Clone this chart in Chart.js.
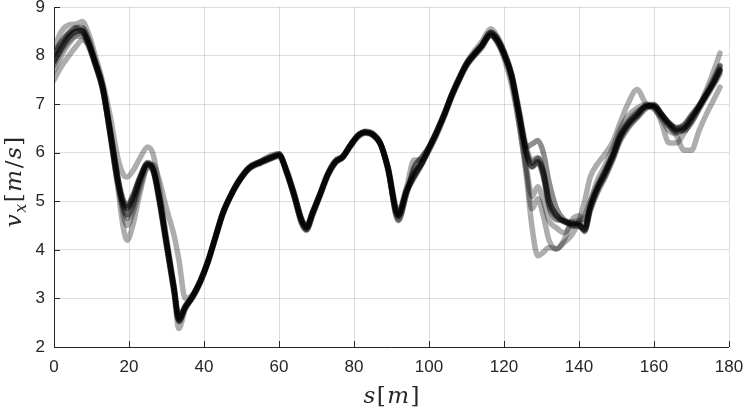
<!DOCTYPE html>
<html><head><meta charset="utf-8">
<script src="https://cdn.jsdelivr.net/npm/chart.js@4.4.1/dist/chart.umd.min.js"></script>
<style>html,body{margin:0;padding:0;background:#fff}#wrap{width:747px;height:412px}</style>
</head><body><div id="wrap"><canvas id="c" width="747" height="412"></canvas></div>
<script>
// distance along track s [m]
const S = [0,2,4,6,7.5,9,11,13,15,17,
  18.5,19.5,21,23,25,26.5,28,30,32,33.3,
  35,37,39,41,43,45,47,49,52,55,
  58,60,62,64,66,67.3,69,71,73,75,
  77,79,81,83,85,87,89,91.8,94,96,
  98,100,102,104,106,108,110,112,114,116.5,
  118,120,122,124,126,127.5,129,130.5,132,134,
  136,138,140,141.5,143,145,147,149,151,153,
  155.5,158,160,162,164,166,168,170,172,174,176,177.6];

// velocity v_x [m/s] per lap
const lapA = [8.05,8.3,8.48,8.58,8.58,8.38,7.9,7.38,6.45,5.5,
  5.02,4.92,5.12,5.52,5.8,5.68,5.15,4.2,3.25,2.62,
  2.85,3.05,3.35,3.75,4.25,4.75,5.1,5.4,5.7,5.82,
  5.92,5.98,5.62,5.12,4.58,4.42,4.75,5.15,5.55,5.8,
  5.9,6.15,6.35,6.44,6.4,6.2,5.68,4.68,5.2,5.52,
  5.8,6.12,6.45,6.8,7.2,7.55,7.85,8.05,8.22,8.48,
  8.38,8.08,7.62,6.85,6.12,6.18,6.25,6.0,5.4,4.85,
  4.62,4.55,4.55,4.38,4.8,5.2,5.5,5.85,6.25,6.5,
  6.72,6.92,6.98,6.8,6.6,6.48,6.5,6.7,6.95,7.2,7.5,7.78];
const lapB = [7.9,8.15,8.38,8.5,8.52,8.3,7.85,7.32,6.38,5.4,
  4.95,4.85,5.05,5.48,5.76,5.62,5.05,4.1,3.15,2.52,
  2.8,3.02,3.32,3.72,4.22,4.72,5.08,5.36,5.66,5.78,
  5.88,5.95,5.65,5.18,4.65,4.5,4.8,5.18,5.58,5.84,
  5.93,6.16,6.36,6.42,6.36,6.18,5.72,4.75,5.25,5.55,
  5.76,6.08,6.4,6.76,7.16,7.5,7.8,8.0,8.18,8.42,
  8.32,8.02,7.58,6.78,5.98,5.72,5.82,5.55,4.95,4.68,
  4.58,4.52,4.5,4.42,4.88,5.28,5.58,5.92,6.32,6.58,
  6.78,6.97,6.95,6.78,6.62,6.52,6.58,6.78,6.98,7.22,7.45,7.68];
const lapC = [8.0,8.25,8.45,8.55,8.5,8.28,7.82,7.3,6.35,5.35,
  4.85,4.72,4.95,5.45,5.75,5.62,5.08,4.12,3.18,2.55,
  2.8,3.05,3.35,3.75,4.25,4.75,5.1,5.38,5.68,5.8,
  5.9,5.95,5.6,5.12,4.6,4.48,4.78,5.15,5.55,5.8,
  5.92,6.14,6.34,6.42,6.38,6.2,5.7,4.62,5.15,5.7,
  5.9,6.12,6.42,6.78,7.18,7.52,7.82,8.02,8.2,8.48,
  8.38,8.05,7.6,6.8,5.95,5.7,5.8,5.5,4.9,4.62,
  4.6,4.5,4.48,4.45,4.9,5.3,5.62,5.95,6.35,6.6,
  6.8,6.95,6.95,6.78,6.6,6.45,6.45,6.62,6.9,7.18,7.45,7.72];
const lapD = [7.8,8.1,8.3,8.42,8.45,8.28,7.85,7.35,6.5,5.5,
  4.7,4.5,4.75,5.3,5.72,5.75,5.45,4.85,4.3,3.8,
  3.0,3.08,3.38,3.78,4.28,4.78,5.12,5.4,5.7,5.82,
  5.92,5.96,5.6,5.15,4.62,4.45,4.76,5.15,5.55,5.8,
  5.92,6.15,6.35,6.42,6.38,6.2,5.75,4.8,5.28,5.85,
  5.85,6.05,6.38,6.75,7.15,7.48,7.78,7.98,8.15,8.42,
  8.32,8.02,7.55,6.72,5.7,5.1,5.3,5.0,4.6,4.45,
  4.35,4.5,4.58,4.7,5.0,5.35,5.65,6.0,6.4,6.65,
  6.85,6.95,6.9,6.72,6.55,6.42,6.5,6.65,6.9,7.15,7.4,7.62];
const lapE = [8.15,8.5,8.63,8.65,8.7,8.5,8.0,7.45,6.75,5.9,
  5.55,5.5,5.62,5.9,6.12,5.95,5.3,4.25,3.25,2.6,
  2.82,3.05,3.35,3.75,4.25,4.75,5.1,5.38,5.68,5.82,
  5.95,5.98,5.6,5.1,4.55,4.42,4.72,5.12,5.52,5.8,
  5.9,6.12,6.32,6.4,6.36,6.18,5.65,4.7,5.2,5.5,
  5.75,6.05,6.35,6.72,7.12,7.48,7.85,8.08,8.28,8.55,
  8.42,8.1,7.65,6.9,6.1,5.85,5.9,5.6,5.0,4.72,
  4.6,4.58,4.6,4.5,4.9,5.3,5.6,5.95,6.35,6.6,
  6.8,6.98,7.0,6.78,6.55,6.35,6.05,6.05,6.45,6.8,7.1,7.35];
const lapF = [7.5,7.78,8.0,8.2,8.32,8.25,7.82,7.3,6.35,5.3,
  4.45,4.2,4.5,5.2,5.7,5.6,5.0,4.05,3.1,2.38,
  2.78,3.02,3.32,3.72,4.22,4.72,5.08,5.36,5.68,5.8,
  5.9,5.92,5.58,5.1,4.55,4.4,4.72,5.12,5.52,5.78,
  5.9,6.12,6.32,6.4,6.36,6.18,5.68,4.6,5.15,5.65,
  5.9,6.1,6.4,6.75,7.15,7.5,7.8,8.0,8.18,8.42,
  8.3,7.95,7.4,6.6,5.5,4.45,3.88,3.95,4.05,4.02,
  4.15,4.3,4.6,5.0,5.5,5.78,5.98,6.22,6.62,7.0,
  7.3,7.0,6.95,6.62,6.2,6.2,6.4,6.68,6.95,7.3,7.7,8.05];
const lapG = [7.7,8.0,8.25,8.4,8.4,8.22,7.8,7.28,6.42,5.48,
  4.88,4.65,4.88,5.4,5.76,5.64,5.1,4.15,3.2,2.55,
  2.82,3.05,3.35,3.75,4.25,4.75,5.1,5.38,5.68,5.8,
  5.88,5.95,5.65,5.18,4.62,4.45,4.78,5.15,5.55,5.82,
  5.92,6.15,6.35,6.42,6.38,6.2,5.7,4.72,5.22,5.6,
  5.78,6.1,6.42,6.78,7.18,7.52,7.82,8.02,8.2,8.42,
  8.3,8.0,7.5,6.6,5.6,4.85,5.05,4.7,4.2,4.02,
  4.2,4.6,4.7,4.62,5.0,5.45,5.75,6.1,6.5,6.75,
  6.92,7.0,6.92,6.7,6.45,6.4,6.5,6.72,6.95,7.25,7.55,7.8];
const lapH = [7.88,8.18,8.4,8.5,8.5,8.32,7.86,7.35,6.42,5.45,
  4.98,4.88,5.08,5.5,5.78,5.65,5.1,4.15,3.2,2.58,
  2.84,3.06,3.36,3.76,4.26,4.76,5.1,5.38,5.68,5.8,
  5.9,5.95,5.62,5.15,4.62,4.46,4.78,5.16,5.56,5.82,
  5.92,6.15,6.35,6.42,6.38,6.2,5.7,4.72,5.2,5.48,
  5.76,6.1,6.42,6.78,7.18,7.52,7.82,8.02,8.2,8.45,
  8.35,8.05,7.6,6.8,6.02,5.78,5.88,5.62,5.02,4.72,
  4.58,4.55,4.52,4.4,4.85,5.25,5.55,5.9,6.3,6.55,
  6.75,6.95,6.97,6.8,6.6,6.5,6.55,6.75,6.95,7.2,7.45,7.7];

const lightLaps = [lapD, lapE, lapF, lapG];
const darkLaps = [lapA, lapB, lapC, lapH];
const xTicks = [0,20,40,60,80,100,120,140,160,180];
const yTicks = [2,3,4,5,6,7,8,9];

function mk(lap, color){
  return {data: S.map((s,i)=>({x:s,y:lap[i]})), borderColor: color, borderWidth: 5.5,
    pointRadius: 0, fill: false, cubicInterpolationMode: 'monotone',
    borderCapStyle: 'round', borderJoinStyle: 'round'};
}
const datasets = [
  ...lightLaps.map(l=>mk(l,'rgba(0,0,0,0.32)')),
  ...darkLaps.map(l=>mk(l,'rgba(0,0,0,0.45)'))
];

const AX = '#262626';
const SERIF = '"DejaVu Serif", "Liberation Serif", serif';
// axis titles drawn as LaTeX-like mixed runs: [text, italic, sizeFactor, baselineShift]
const xTitleRuns = [['s',1,1,0],['[',0,1,0],['m',1,1,0],[']',0,1,0]];
const yTitleRuns = [['v',1,1,0],['x',1,0.7,5],['[',0,1,0],['m',1,1,0],['/',0,1,0],['s',1,1,0],[']',0,1,0]];

function drawRuns(ctx, runs, size, gap){
  const fontOf = r => (r[1] ? 'italic ' : '') + Math.round(size*r[2]) + 'px ' + SERIF;
  let total = 0;
  const w = runs.map(r => { ctx.font = fontOf(r); const m = ctx.measureText(r[0]).width; total += m; return m; });
  total += gap*(runs.length-1);
  let x = -total/2;
  ctx.textBaseline = 'alphabetic'; ctx.textAlign = 'left';
  runs.forEach((r,i)=>{ ctx.font = fontOf(r); ctx.fillText(r[0], x, r[3]); x += w[i] + gap; });
}

const axesDecor = {
  id: 'axesDecor',
  afterDatasetsDraw(chart){
    const ctx = chart.ctx, a = chart.chartArea, xs = chart.scales.x, ys = chart.scales.y;
    ctx.save(); ctx.strokeStyle = AX; ctx.lineWidth = 1; ctx.beginPath();
    xTicks.forEach(v=>{ const p = Math.round(xs.getPixelForValue(v))+0.5; ctx.moveTo(p,a.bottom); ctx.lineTo(p,a.bottom-6); });
    yTicks.forEach(v=>{ const p = Math.round(ys.getPixelForValue(v))+0.5; ctx.moveTo(a.left,p); ctx.lineTo(a.left+6,p); });
    ctx.stroke();
    ctx.beginPath(); ctx.moveTo(a.left+0.5,a.top); ctx.lineTo(a.left+0.5,a.bottom+0.5); ctx.lineTo(a.right,a.bottom+0.5); ctx.stroke();
    ctx.fillStyle = AX;
    ctx.save(); ctx.translate((a.left+a.right)/2, 403); drawRuns(ctx, xTitleRuns, 23, 1.5); ctx.restore();
    ctx.save(); ctx.translate(21, (a.top+a.bottom)/2 + 5); ctx.rotate(-Math.PI/2); drawRuns(ctx, yTitleRuns, 23, 1.5); ctx.restore();
    ctx.restore();
  }
};
function noPad(s){ s.paddingTop = 0; s.paddingBottom = 0; s.paddingLeft = 0; s.paddingRight = 0; }

new Chart(document.getElementById('c'), {
  type: 'line',
  data: {datasets},
  plugins: [axesDecor],
  options: {
    responsive: false, animation: false, parsing: false,
    layout: {padding: {top: 7, right: 18, left: 0, bottom: 0}},
    plugins: {legend: {display: false}, tooltip: {enabled: false}},
    scales: {
      x: {type: 'linear', min: 0, max: 180,
        afterBuildTicks: s=>{ s.ticks = xTicks.map(v=>({value:v})); },
        afterFit: s=>{ s.height = 65; noPad(s); },
        grid: {color: 'rgba(0,0,0,0.13)', lineWidth: 1, drawTicks: false},
        border: {display: false},
        ticks: {color: AX, font: {family: 'Liberation Sans', size: 17}, padding: 10, maxRotation: 0}
      },
      y: {type: 'linear', min: 2, max: 9,
        afterBuildTicks: s=>{ s.ticks = yTicks.map(v=>({value:v})); },
        afterFit: s=>{ s.width = 54; noPad(s); },
        grid: {color: 'rgba(0,0,0,0.13)', lineWidth: 1, drawTicks: false},
        border: {display: false},
        ticks: {color: AX, font: {family: 'Liberation Sans', size: 17}, padding: 9}
      }
    }
  }
});
</script></body></html>
